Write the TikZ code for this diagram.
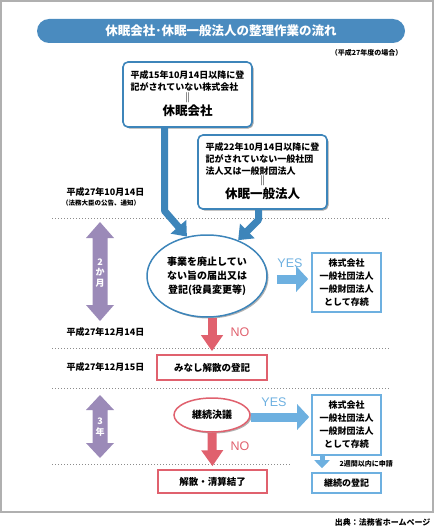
\documentclass[tikz,border=0pt]{standalone}
\usepackage{fontspec}
\setmainfont{Noto Sans CJK JP}
\newfontfamily\latfont{Liberation Sans}
\usetikzlibrary{arrows.meta,shadows,shapes.geometric}
\definecolor{framegray}{HTML}{B0B0B0}
\definecolor{bannerblue}{HTML}{4A8BBF}
\definecolor{boxblue}{HTML}{3D85BA}
\definecolor{lightblue}{HTML}{6DB0E0}
\definecolor{redc}{HTML}{E0616E}
\definecolor{purplec}{HTML}{9B8AB8}
\definecolor{dotgray}{HTML}{8C8C8C}
\newcommand\fsz[2]{\fontsize{#1}{#2}\selectfont}
\newcommand\eqbar{{\fsz{10}{10}\bfseries ‖}}
\begin{document}
\begin{tikzpicture}[x=1pt,y=-1pt,
  blbox/.style={draw=boxblue, line width=1.6pt, rounded corners=5pt, fill=white,
    drop shadow={shadow xshift=1.5pt,shadow yshift=-1.5pt,opacity=0.35,fill=black},
    inner sep=0pt},
  rbox/.style={draw=lightblue, line width=1.6pt, fill=white, inner sep=0pt, align=center,
    font=\fsz{9}{13}\bfseries},
  redbox/.style={draw=redc, line width=1.6pt, fill=white, inner sep=0pt,
    font=\fsz{9.5}{11}\bfseries},
  bigarrow/.style={draw=boxblue, line width=7pt, line join=round, -{Triangle[length=13pt,width=20pt]}},
  yesarrow/.style={draw=lightblue, line width=9pt, -{Triangle[length=12pt,width=25pt]}},
  noarrow/.style={draw=redc, line width=9pt, -{Triangle[length=16pt,width=21pt]}},
  smallarrow/.style={draw=lightblue, line width=5pt, -{Triangle[length=8pt,width=15pt]}},
  dotline/.style={draw=dotgray, line width=0.9pt, dash pattern=on 0.9pt off 2.1pt},
  datelbl/.style={font=\fsz{9}{11}\bfseries, anchor=west},
  yeslbl/.style={text=lightblue, font=\latfont\fsz{12.5}{13}},
  nolbl/.style={text=redc, font=\latfont\fsz{12.5}{13}},
  purpletxt/.style={text=white, font=\fsz{9}{10.5}\bfseries, align=center},
]
\useasboundingbox (0,0) rectangle (435,527);
% frame
\draw[framegray, line width=2pt] (1,1.5) rectangle (433,512);
% title
\node[fill=bannerblue, rounded corners=12pt, minimum width=368pt, minimum height=24pt,
  inner sep=0pt, text=white, font=\fsz{12.5}{14}\bfseries] (title) at (221,31)
  {休眠会社･休眠一般法人の整理作業の流れ};
\node[anchor=east, font=\fsz{7}{8}\bfseries] (note) at (406,53) {（平成27年度の場合）};

% dotted lines
\draw[dotline] (52,218) -- (390,218);
\draw[dotline] (52,348) -- (390,348);
\draw[dotline] (52,388) -- (390,388);
\draw[dotline] (52,464) -- (290,464);

% date labels
\node[datelbl] (d1) at (63,192) {平成27年10月14日};
\node[font=\fsz{6.5}{8}\bfseries] (d1n) at (101,203.5) {（法務大臣の公告、通知）};
\node[datelbl] (d2) at (63,332) {平成27年12月14日};
\node[datelbl] (d3) at (63,367) {平成27年12月15日};

% purple interval arrows
\fill[purplec] (100,222) -- (114,238) -- (107.5,238) -- (107.5,305) -- (114,305) -- (100,321)
  -- (86,305) -- (92.5,305) -- (92.5,238) -- (86,238) -- cycle;
\node[purpletxt] (p1) at (100,273) {2\\か\\月};
\fill[purplec] (100,395) -- (114,410) -- (107.5,410) -- (107.5,443) -- (114,443) -- (100,458)
  -- (86,443) -- (92.5,443) -- (92.5,410) -- (86,410) -- cycle;
\node[purpletxt] (p2) at (100,427) {3\\年};

% top boxes
\node[blbox, minimum width=129pt, minimum height=65pt] (b1) at (187.5,94.5)
  {\fsz{9}{12.5}\bfseries\begin{tabular}{@{}c@{}}\begin{tabular}{@{}l@{}}平成15年10月14日以降に登\\記がされていない株式会社\end{tabular}\\[-2pt]\eqbar\\[0pt]{\fsz{12.5}{14}\bfseries 休眠会社}\end{tabular}};
\node[blbox, minimum width=129pt, minimum height=74pt] (b2) at (262.5,172)
  {\fsz{9}{12}\bfseries\begin{tabular}{@{}c@{}}\begin{tabular}{@{}l@{}}平成22年10月14日以降に登\\記がされていない一般社団\\法人又は一般財団法人\end{tabular}\\[-2pt]\eqbar\\[0pt]{\fsz{12.5}{14}\bfseries 休眠一般法人}\end{tabular}};

% ellipse 1
\node[ellipse, draw=boxblue, line width=1.5pt, fill=white, minimum width=120pt,
  minimum height=82pt, inner sep=0pt, align=center, font=\fsz{10}{14}\bfseries,
  drop shadow={shadow xshift=1.5pt,shadow yshift=-1.5pt,opacity=0.3,fill=black}] (e1) at (207,276)
  {事業を廃止してい\\ない旨の届出又は\\登記(役員変更等)};

% right boxes
\node[rbox, minimum width=69pt, minimum height=59pt] (rb1) at (346.5,282.5)
  {株式会社\\一般社団法人\\一般財団法人\\として存続};
\node[rbox, minimum width=69pt, minimum height=60pt] (rb2) at (346.5,425)
  {株式会社\\一般社団法人\\一般財団法人\\として存続};
\node[rbox, minimum width=69pt, minimum height=20pt] (rb3) at (346.5,483) {継続の登記};

% red boxes
\node[redbox, minimum width=110pt, minimum height=25pt] (mb) at (212,367.5) {みなし解散の登記};
\node[ellipse, draw=redc, line width=1.5pt, fill=white, minimum width=76pt, minimum height=34pt,
  inner sep=0pt, font=\fsz{10}{12}\bfseries,
  drop shadow={shadow xshift=1.5pt,shadow yshift=-1.5pt,opacity=0.3,fill=black}] (e2) at (212,415) {継続決議};
\node[redbox, minimum width=109pt, minimum height=23pt] (kb) at (212.5,481.5) {解散・清算結了};

% connectors
\draw[bigarrow] ([xshift=-23pt]b1.south) -- ++(0,83) -- (e1.117);
\draw[bigarrow] ([xshift=-4pt]b2.south) -- ++(0,10) -- (e1.49);
\draw[yesarrow, shorten <=9pt, shorten >=3pt] ([yshift=-3pt]e1.east) -- ([yshift=-3pt]e1.east -| rb1.west);
\node[yeslbl] (yes1) at (290,263) {YES};
\draw[noarrow, shorten >=3pt] (e1.south -| mb.north) -- (mb.north);
\node[nolbl] (no1) at (240,332) {NO};
\draw[yesarrow, shorten >=2pt] ([yshift=-2pt]e2.east) -- ([yshift=-2pt]e2.east -| rb2.west);
\node[yeslbl] (yes2) at (274,402) {YES};
\draw[noarrow, shorten >=3pt] (e2.south) -- (kb.north);
\node[nolbl] (no2) at (240,446) {NO};
\draw[smallarrow, shorten >=4pt] ([xshift=-24.5pt]rb2.south) -- ([xshift=-24.5pt]rb3.north);
\node[font=\fsz{7}{8}\bfseries, anchor=west] (twowk) at (336,464) {2週間以内に申請};

% source
\node[anchor=east, font=\fsz{8}{9}\bfseries] (src) at (434,522) {出典：法務省ホームページ};
\end{tikzpicture}
\end{document}
